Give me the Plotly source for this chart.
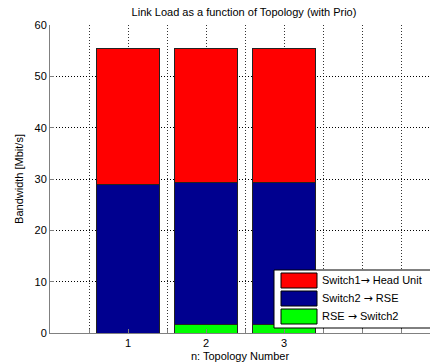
import plotly.graph_objects as go

# Topologies and per-link bandwidth (Mbit/s), stacked bottom to top
topology = [1, 2, 3]
rse_to_switch2 = [0.0, 1.75, 1.75]
switch2_to_rse = [29.0, 27.6, 27.6]
switch1_to_head = [26.5, 26.1, 26.1]

ARROW = '<span style="font-family:DejaVu Sans">\u2192</span>'
series = [
    ("RSE " + ARROW + " Switch2", rse_to_switch2, "#00FF00"),
    ("Switch2 " + ARROW + " RSE", switch2_to_rse, "#00008F"),
    ("Switch1" + ARROW + " Head Unit", switch1_to_head, "#FF0000"),
]

x_ticks = [0.5, 1, 1.5, 2, 2.5, 3, 3.5, 4, 4.5]
x_ticktext = ["", "1", "", "2", "", "3", "", "", ""]
y_ticks = [0, 10, 20, 30, 40, 50, 60]

W, H = 430, 364
ML, MR, MT, MB = 50, 0, 25, 31
FONT = "Liberation Sans, Arial, sans-serif"

fig = go.Figure()
for name, vals, col in series:
    fig.add_trace(go.Bar(
        x=topology, y=vals, name=name, width=0.8,
        marker=dict(color=col, line=dict(color="#222222", width=1)),
        showlegend=False,
    ))


def px_x(px):
    return (px - ML) / (W - ML - MR)


def px_y(py):
    return (H - MB - py) / (H - MT - MB)


# Legend box drawn in the lower-right corner of the axes
shapes = [dict(type="rect", xref="paper", yref="paper",
               x0=px_x(274), x1=px_x(440), y0=px_y(328), y1=px_y(270),
               line=dict(color="black", width=1), fillcolor="white", layer="above")]
annotations = []
legend_rows = [series[2], series[1], series[0]]
for i, (name, _, col) in enumerate(legend_rows):
    top = 273 + i * 18
    shapes.append(dict(type="rect", xref="paper", yref="paper",
                       x0=px_x(281), x1=px_x(317), y0=px_y(top + 15), y1=px_y(top),
                       line=dict(color="black", width=1), fillcolor=col, layer="above"))
    annotations.append(dict(xref="paper", yref="paper", x=px_x(320), y=px_y(top + 7.5),
                            text=name, showarrow=False, xanchor="left", yanchor="middle",
                            font=dict(family=FONT, size=11, color="black")))

fig.update_layout(
    width=W, height=H,
    margin=dict(l=ML, r=MR, t=MT, b=MB, pad=0),
    barmode="stack",
    bargap=0.2,
    plot_bgcolor="white", paper_bgcolor="white",
    font=dict(family=FONT, size=11, color="black"),
    title=dict(text="Link Load as a function of Topology (with Prio)",
               x=244 / W, xanchor="center", y=1 - 12 / H, yanchor="middle",
               font=dict(size=11, color="black")),
    shapes=shapes,
    annotations=annotations,
    showlegend=False,
)
fig.update_xaxes(
    range=[0, (W - ML) / 78.0],
    tickvals=x_ticks, ticktext=x_ticktext,
    ticks="inside", ticklen=4, tickcolor="#808080",
    showline=True, linecolor="#808080", linewidth=1, mirror=False,
    showgrid=True, gridcolor="#333333", griddash="1px,2px", gridwidth=1,
    zeroline=False,
    title=dict(text="n: Topology Number", standoff=4, font=dict(size=11)),
    tickfont=dict(size=11),
)
fig.update_yaxes(
    range=[0, 60],
    tickvals=y_ticks,
    ticks="inside", ticklen=4, tickcolor="#808080",
    showline=True, linecolor="#808080", linewidth=1, mirror=False,
    showgrid=True, gridcolor="black", griddash="1px,2px", gridwidth=1,
    zeroline=False,
    title=dict(text="Bandwidth [Mbit/s]", standoff=8, font=dict(size=11)),
    tickfont=dict(size=11),
)

fig.write_html("out.html")
